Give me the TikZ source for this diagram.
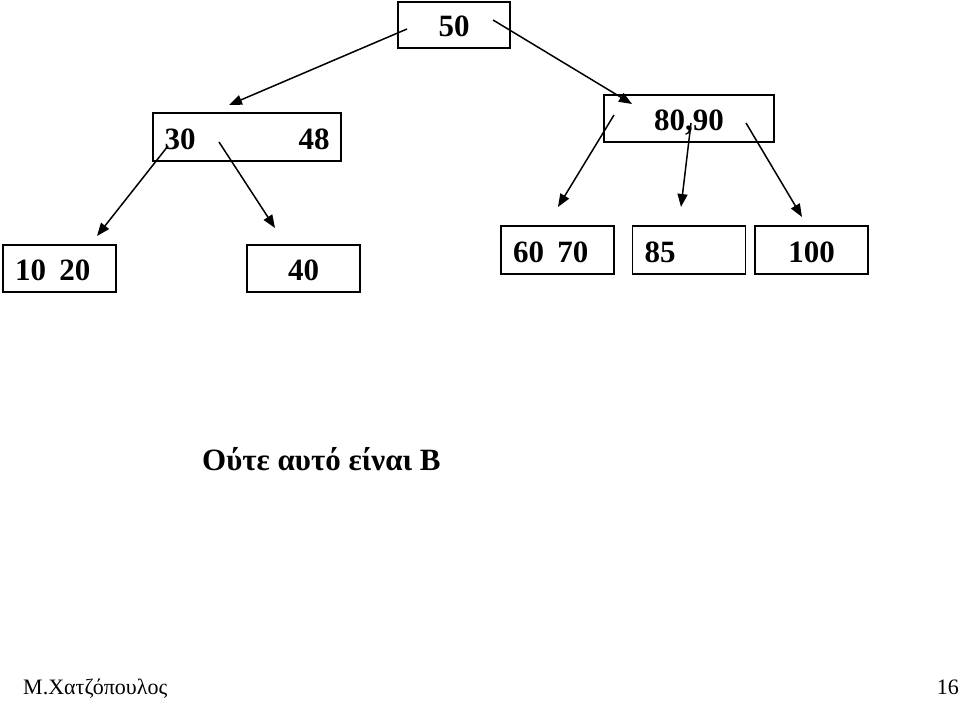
\documentclass[tikz,border=0pt]{standalone}
\usepackage{fontspec}
\setmainfont{Liberation Serif}
\usetikzlibrary{arrows.meta,positioning}

\begin{document}
\begin{tikzpicture}[
  x=1pt, y=-1pt,
  keybox/.style={rectangle, draw=black, line width=1.5pt, inner sep=0pt, minimum height=47pt,
    text height=24pt, text depth=0pt, font=\bfseries\fontsize{31}{31}\selectfont},
  leftbox/.style={keybox, text width=89pt, align=left, inner xsep=12pt},
  link/.style={-{Triangle[length=13pt,width=10pt]}, line width=1.5pt, shorten >=0pt},
  caption/.style={font=\bfseries\fontsize{31}{31}\selectfont},
  footer/.style={font=\fontsize{22}{22}\selectfont, inner sep=0pt}
]
  \useasboundingbox (0,0) rectangle (960,701);
  % B-tree nodes
  \node[keybox, minimum width=112pt, minimum height=46pt] (root) at (454,25) {50};
  \node[keybox, minimum width=188pt, minimum height=48pt] (left) at (247,137) {30\hspace{103pt}48};
  \node[keybox, minimum width=170pt] (right) at (689,118.5) {80,90};
  \node[leftbox] (leaf1) at (59.5,268.5) {10\hspace{13.5pt}20};
  \node[keybox, minimum width=113pt] (leaf2) at (303.5,268.5) {40};
  \node[leftbox, minimum height=48pt] (leaf3) at (557.5,250) {60\hspace{13.5pt}70};
  \node[leftbox, minimum height=48pt] (leaf4) at (689,250) {85};
  \node[keybox, minimum width=113pt, minimum height=48pt] (leaf5) at (811.5,250) {100};
  % pointer ends
  \coordinate (rootL) at (407,29);   \coordinate (toLeft) at (229,105);
  \coordinate (rootR) at (493,20);   \coordinate (toRight) at (632,104);
  \coordinate (leftA) at (168,146);  \coordinate (toLeaf1) at (97,236);
  \coordinate (leftB) at (219,142);  \coordinate (toLeaf2) at (275,228);
  \coordinate (rightA) at (614,115); \coordinate (toLeaf3) at (558,207);
  \coordinate (rightB) at (691,123); \coordinate (toLeaf4) at (681,207);
  \coordinate (rightC) at (746,123); \coordinate (toLeaf5) at (802,217);
  % pointers
  \draw[link] (rootL) -- (toLeft);
  \draw[link] (rootR) -- (toRight);
  \draw[link] (leftA) -- (toLeaf1);
  \draw[link] (leftB) -- (toLeaf2);
  \draw[link] (rightA) -- (toLeaf3);
  \draw[link] (rightB) -- (toLeaf4);
  \draw[link] (rightC) -- (toLeaf5);
  % texts
  \node[caption, anchor=base west, inner sep=0pt] (note) at (202,470) {Ούτε αυτό είναι Β};
  \node[footer, anchor=base west] (author) at (23,694) {Μ.Χατζόπουλος};
  \node[footer, anchor=base east] (page) at (959,694) {16};
\end{tikzpicture}
\end{document}
